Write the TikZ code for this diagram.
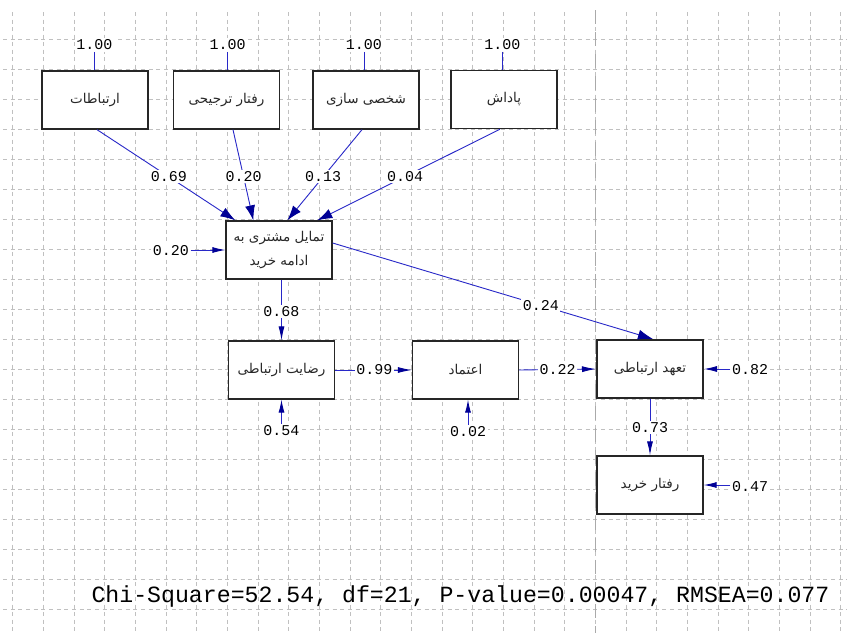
\documentclass[tikz,border=0pt]{standalone}
\usepackage{fontspec}
\setmonofont{Liberation Mono}
\newfontfamily\fafont[Script=Arabic]{DejaVu Sans}
\TeXXeTstate=1
\usetikzlibrary{arrows.meta}
\definecolor{pathblue}{RGB}{40,40,200}
\definecolor{headblue}{RGB}{0,0,150}
\definecolor{gridgray}{RGB}{192,192,192}
\definecolor{majorgray}{RGB}{170,170,170}
\definecolor{labelgray}{RGB}{40,40,40}

\begin{document}
\begin{tikzpicture}[x=1pt,y=-1pt,
  gridline/.style={draw=gridgray, line width=0.9pt, dash pattern=on 4pt off 3.667pt},
  vgridline/.style={draw=gridgray, line width=0.9pt, dash pattern=on 4pt off 3.5pt},
  majorline/.style={draw=majorgray, line width=1pt, dash pattern=on 14pt off 8pt},
  var/.style={draw=black!85, line width=1.3pt, fill=white, minimum width=106pt,
    minimum height=58pt, inner sep=0pt, text=labelgray,
    font=\fafont\fontsize{13.5}{24}\selectfont, align=center},
  coef/.style={fill=white, inner sep=1.5pt, font=\ttfamily\fontsize{15}{15}\selectfont},
  link/.style={draw=pathblue, line width=0.9pt},
  causal/.style={link, -{Latex[length=15pt,width=10pt,color=headblue]}},
  straight/.style={link, -{Latex[length=14pt,width=6pt,color=headblue]}},
  resid/.style={link, -{Latex[length=13pt,width=6pt,color=headblue]}},
]
\useasboundingbox (0,0) rectangle (847,633);
\fill[white] (0,0) rectangle (847,633);

% background grid
\foreach \k in {0,...,19}
  \draw[gridline] (3,{39.3+30*\k}) -- (847,{39.3+30*\k});
\foreach \k in {0,...,27}
  \draw[vgridline] ({12.7+30.667*\k},12) -- ({12.7+30.667*\k},633);
\draw[majorline] (595.4,10) -- (595.4,633);

% latent and observed variables
\node[var] (b1) at (95,100) {\beginR ارتباطات\endR};
\node[var] (b2) at (226.5,100) {\beginR رفتار ترجیحی\endR};
\node[var] (b3) at (366,100) {\beginR شخصی سازی\endR};
\node[var] (b4) at (504,99.5) {\beginR پاداش\endR};
\node[var] (mid) at (279,250) {\beginR تمایل مشتری به\endR\\\beginR ادامه خرید\endR};
\node[var] (sat) at (281.5,370) {\beginR رضایت ارتباطی\endR};
\node[var] (tru) at (465.5,370) {\beginR اعتماد\endR};
\node[var, line width=2pt] (com) at (650,369) {\beginR تعهد ارتباطی\endR};
\node[var] (buy) at (650,485) {\beginR رفتار خرید\endR};

% variances of the exogenous variables
\node[coef] (v1) at (94.3,45) {1.00};
\node[coef] (v2) at (227.7,45) {1.00};
\node[coef] (v3) at (364,45) {1.00};
\node[coef] (v4) at (502.3,45) {1.00};
\draw[link] (v1.south) -- (v1.south |- b1.north);
\draw[link] (v2.south) -- (v2.south |- b2.north);
\draw[link] (v3.south) -- (v3.south |- b3.north);
\draw[link] (v4.south) -- (v4.south |- b4.north);

% structural paths
\draw[causal] ([xshift=2pt]b1.south) -- node[coef,pos=0.52]{0.69} ([xshift=10pt]mid.north west);
\draw[causal] ([xshift=6.5pt]b2.south) -- node[coef,pos=0.52]{0.20} ([xshift=28pt]mid.north west);
\draw[causal] ([xshift=-4pt]b3.south) -- node[coef,pos=0.52]{0.13} ([xshift=62pt]mid.north west);
\draw[causal] ([xshift=-4pt]b4.south) -- node[coef,pos=0.52]{0.04} ([xshift=92pt]mid.north west);
\draw[causal] ([yshift=7pt]mid.east) -- node[coef,pos=0.65]{0.24} ([xshift=3pt]com.north);
\draw[straight] (mid.south -| sat.north) -- node[coef,pos=0.53]{0.68} (sat.north);
\draw[straight] (sat.east) -- node[coef,pos=0.51]{0.99} (tru.west);
\draw[straight] (tru.east) -- node[coef,pos=0.5]{0.22} (com.west);
\draw[straight] (com.south) -- node[coef,pos=0.5]{0.73} (buy.north);

% error terms
\node[coef] (e20) at (171,251) {0.20};
\draw[resid] (e20.east |- mid.west) -- (mid.west);
\node[coef] (e54) at (281.5,431) {0.54};
\draw[resid] (e54.north) -- (sat.south);
\node[coef] (e02) at (468,431.7) {0.02};
\draw[resid] (e02.north) -- (e02.north |- tru.south);
\node[coef] (e82) at (750,370) {0.82};
\draw[resid] (e82.west |- com.east) -- (com.east);
\node[coef] (e47) at (750,486.7) {0.47};
\draw[resid] (e47.west |- buy.east) -- (buy.east);

% goodness of fit
\node[font=\ttfamily\fontsize{23.2}{23.2}\selectfont, inner sep=0pt] (fit) at (460.5,596)
  {Chi-Square=52.54, df=21, P-value=0.00047, RMSEA=0.077};
\end{tikzpicture}
\end{document}
